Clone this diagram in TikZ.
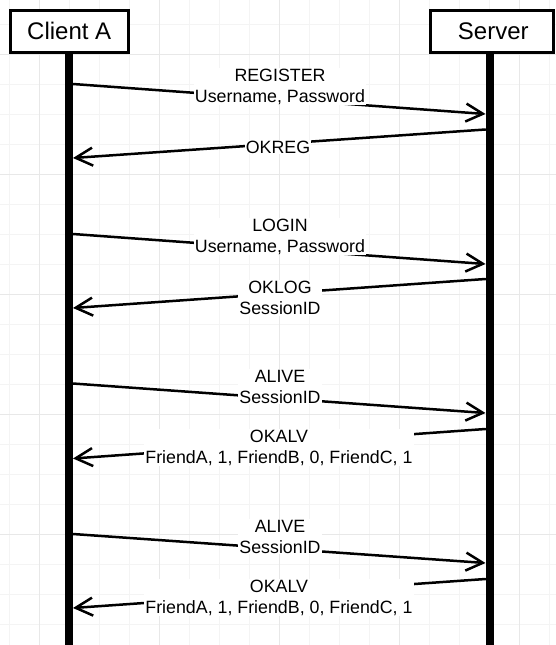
\documentclass[tikz,border=0pt]{standalone}
\usepackage{fontspec}
\setmainfont{Liberation Sans}
\usetikzlibrary{arrows.meta}
\definecolor{gridminor}{HTML}{F4F4F4}
\definecolor{gridmajor}{HTML}{E8E8E8}
\begin{document}
\begin{tikzpicture}[x=1pt,y=-1pt,
  msg/.style={line width=2.5pt, line cap=round, -{Straight Barb[length=17pt,width=18pt,line width=2.5pt]}},
  lbl/.style={fill=white, inner sep=1pt, align=center, font=\fontsize{17.8}{21}\selectfont},
  actor/.style={draw, fill=white, line width=3pt, minimum height=42.7pt, inner sep=0pt, font=\fontsize{24}{28}\selectfont},
  life/.style={line width=8pt},
  minorgrid/.style={draw=gridminor, line width=1pt},
  majorgrid/.style={draw=gridmajor, line width=1pt}]
\useasboundingbox (0,0) rectangle (556,645);
\fill[white] (0,0) rectangle (556,645);
% grid
\foreach \x in {9,39,...,549} \draw[minorgrid] (\x,0) -- (\x,645);
\foreach \y in {24,54,...,644} \draw[minorgrid] (0,\y) -- (556,\y);
\foreach \x in {39,159,...,519} \draw[majorgrid] (\x,0) -- (\x,645);
\foreach \y in {54,174,...,534} \draw[majorgrid] (0,\y) -- (556,\y);
% lifelines
\coordinate (caend) at (69.25,645);
\coordinate (svend) at (489.5,645);
\node[actor, minimum width=118.5pt] (ca) at (69.25,31.35) {Client A};
\node[actor, minimum width=123.5pt] (sv) at (491.75,31.35) {\hspace{3pt}Server};
\draw[life] (ca.south) -- (caend);
\draw[life] (sv.south -| svend) -- (svend);
\node[actor, minimum width=118.5pt] at (ca) {Client A};
\node[actor, minimum width=123.5pt] at (sv) {\hspace{3pt}Server};
% message end points
\coordinate (c1) at (73,84);     \coordinate (s1) at (485.5,114);
\coordinate (s2) at (485.5,129.5); \coordinate (c2) at (73,158);
\coordinate (c3) at (73,234);    \coordinate (s3) at (485.5,264);
\coordinate (s4) at (485.5,279); \coordinate (c4) at (73,308);
\coordinate (c5) at (73,383.5);  \coordinate (s5) at (485.5,413);
\coordinate (s6) at (485.5,429); \coordinate (c6) at (73,458.5);
\coordinate (c7) at (73,534);    \coordinate (s7) at (485.5,563);
\coordinate (s8) at (485.5,579); \coordinate (c8) at (73,608);
% messages
\draw[msg] (c1) -- (s1);
\draw[msg] (s2) -- (c2);
\draw[msg] (c3) -- (s3);
\draw[msg] (s4) -- (c4);
\draw[msg] (c5) -- (s5);
\draw[msg] (s6) -- (c6);
\draw[msg] (c7) -- (s7);
\draw[msg] (s8) -- (c8);
% labels
\node[lbl] (l1) at (280,86.5) {REGISTER\\Username, Password};
\node[lbl] (l2) at (278,147) {OKREG};
\node[lbl] (l3) at (280,236.5) {LOGIN\\Username, Password};
\node[lbl] (l4) at (280,298) {OKLOG\\SessionID};
\node[lbl] (l5) at (280,386.5) {ALIVE\\SessionID};
\node[lbl] (l6) at (279,447.5) {OKALV\\FriendA, 1, FriendB, 0, FriendC, 1};
\node[lbl] (l7) at (280,536.5) {ALIVE\\SessionID};
\node[lbl] (l8) at (279,597.5) {OKALV\\FriendA, 1, FriendB, 0, FriendC, 1};
\end{tikzpicture}
\end{document}
